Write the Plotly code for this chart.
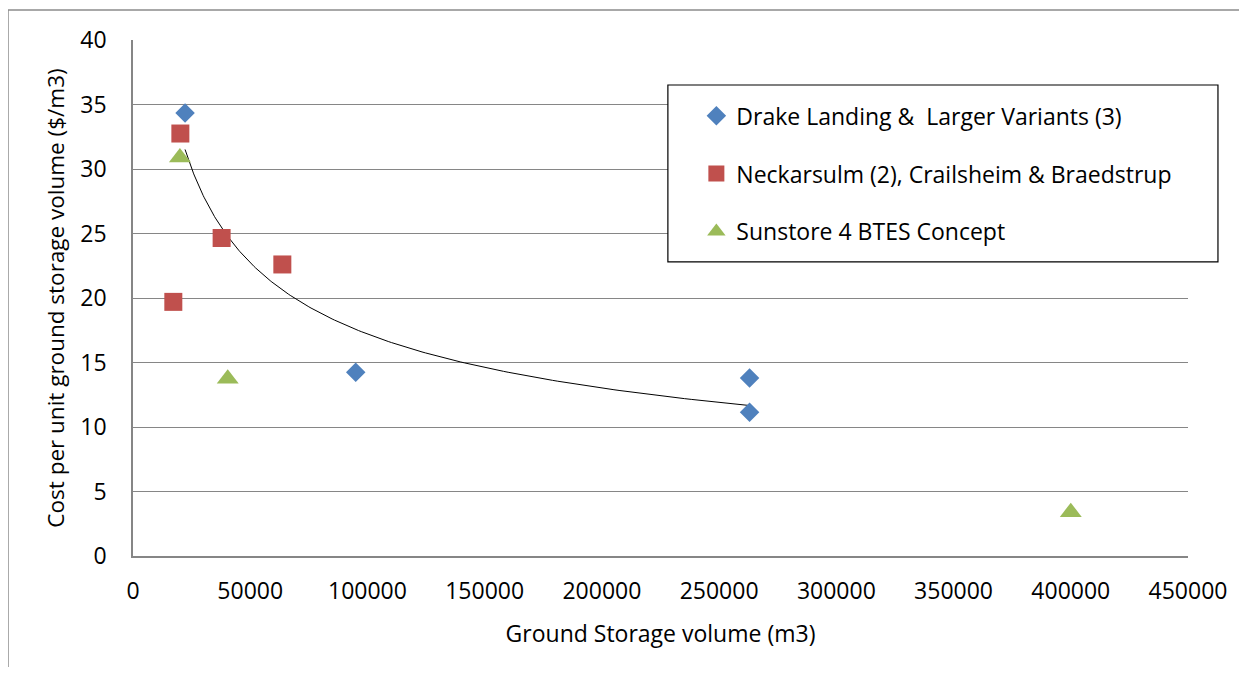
import numpy as np
import plotly.graph_objects as go

# ---- data ----
drake_x = [22200, 95000, 263000, 263000]
drake_y = [34.35, 14.25, 13.8, 11.15]

neck_x = [20200, 37800, 63700, 17200]
neck_y = [32.75, 24.65, 22.6, 19.7]

sun_x = [20000, 40400, 400000]
sun_y = [30.9, 13.75, 3.4]

x_ticks = [0, 50000, 100000, 150000, 200000, 250000, 300000, 350000, 400000, 450000]
y_ticks = [0, 5, 10, 15, 20, 25, 30, 35, 40]

names = ["Drake Landing &  Larger Variants (3)",
         "Neckarsulm (2), Crailsheim & Braedstrup",
         "Sunstore 4 BTES Concept"]
colors = ["#4F81BD", "#C0504D", "#9BBB59"]

# power trendline fitted to the Drake Landing series (as Excel would)
b, a = np.polyfit(np.log(drake_x), np.log(drake_y), 1)
fit_x = np.geomspace(min(drake_x), max(drake_x), 200)
fit_y = np.exp(a) * fit_x ** b

FONT = "Open Sans"
FS = 23

fig = go.Figure()
fig.add_trace(go.Scatter(x=fit_x, y=fit_y, mode="lines",
                         line=dict(color="#000000", width=1),
                         showlegend=False, hoverinfo="skip"))
fig.add_trace(go.Scatter(x=drake_x, y=drake_y, mode="markers", name=names[0],
                         legendgroup="a",
                         marker=dict(symbol="diamond", size=15, color=colors[0])))
fig.add_trace(go.Scatter(x=neck_x, y=neck_y, mode="markers", name=names[1],
                         legendgroup="b",
                         marker=dict(symbol="square", size=18, color=colors[1])))
fig.add_trace(go.Scatter(x=sun_x, y=sun_y, mode="markers", name=names[2],
                         legendgroup="c",
                         marker=dict(symbol="triangle-up", size=19, color=colors[2])))

# page has an 8px body margin; figure sized to fit inside the window
W, H = 1231, 659
L, T = 125, 32
R = W - 1180
B = H - 548
fig.update_layout(
    width=W, height=H,
    margin=dict(l=L, r=R, t=T, b=B),
    paper_bgcolor="white", plot_bgcolor="white",
    font=dict(family=FONT, size=FS, color="#000000"),
    showlegend=True,
    legend=dict(x=0.534, y=0.895, xanchor="left", yanchor="top",
                bgcolor="rgba(0,0,0,0)", borderwidth=0,
                traceorder="grouped", tracegroupgap=25,
                font=dict(family=FONT, size=FS, color="#000000")),
    xaxis=dict(range=[0, 450000], tickvals=x_ticks,
               ticktext=[str(v) for v in x_ticks],
               showgrid=False, zeroline=False,
               showline=True, linecolor="#868686", linewidth=1.5,
               ticks="outside", ticklen=14, tickcolor="rgba(0,0,0,0)",
               tickfont=dict(family=FONT, size=FS),
               title=dict(text="Ground Storage volume (m3)", standoff=21,
                          font=dict(family=FONT, size=FS))),
    yaxis=dict(range=[0, 40], tickvals=y_ticks,
               showgrid=True, gridcolor="#868686", gridwidth=1.2,
               zeroline=False,
               showline=True, linecolor="#868686", linewidth=1.5,
               ticks="outside", ticklen=20, tickcolor="rgba(0,0,0,0)",
               tickfont=dict(family=FONT, size=FS),
               title=dict(text="Cost per unit ground storage volume ($/m3)",
                          standoff=9, font=dict(family=FONT, size=22.5))),
    shapes=[
        # outer chart-area frame (left and top edges visible)
        dict(type="rect", xref="paper", yref="paper",
             x0=-0.1185, x1=1.2, y0=-0.4, y1=1.0581,
             line=dict(color="#8C8C8C", width=1.5), layer="below"),
        # legend box
        dict(type="rect", xref="paper", yref="paper",
             x0=0.507, x1=1.0284, y0=0.570, y1=0.9128,
             line=dict(color="#000000", width=1.2),
             fillcolor="white", layer="above"),
    ],
)

fig.write_html("out.html")
